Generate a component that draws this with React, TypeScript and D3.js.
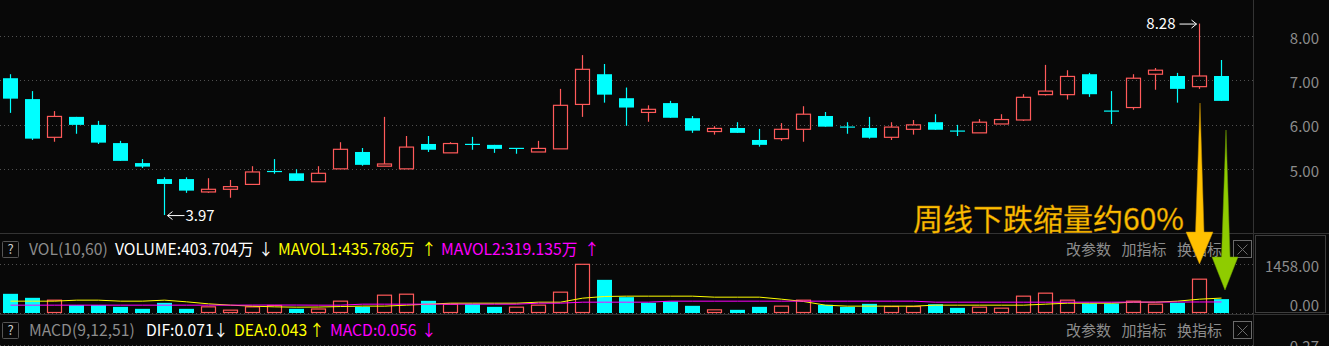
import React from "react";
import * as d3 from "d3";

// ---- data ----
const opens = [7.05,6.58,5.72,6.18,6.00,5.59,5.14,4.78,4.78,4.49,4.55,4.66,4.95,4.91,4.72,5.01,5.39,5.07,5.01,5.57,5.37,5.56,5.55,5.47,5.39,5.46,6.46,7.14,6.60,6.28,6.49,6.15,5.85,5.93,5.66,5.69,5.90,6.20,5.95,5.93,5.72,5.90,6.06,5.86,5.82,6.02,6.11,6.68,6.68,7.14,6.31,6.39,7.14,7.10,6.86,7.10];
const highs = [7.14,6.76,6.31,6.18,6.09,5.64,5.23,4.82,4.82,4.80,4.76,5.07,5.23,5.00,5.07,5.61,5.48,6.18,5.75,5.75,5.61,5.73,5.55,5.47,5.64,6.81,7.57,7.37,6.84,6.44,6.54,6.20,5.97,6.06,5.91,6.04,6.42,6.29,6.06,6.18,6.06,6.11,6.24,6.00,6.13,6.24,6.69,7.35,7.23,7.17,6.76,7.14,7.28,7.17,8.28,7.46];
const lows = [6.27,5.66,5.62,5.80,5.57,5.19,5.03,3.97,4.47,4.47,4.36,4.66,4.90,4.74,4.72,5.01,5.08,5.07,5.01,5.39,5.37,5.44,5.37,5.35,5.39,5.46,6.18,6.50,5.98,6.07,6.16,5.82,5.78,5.82,5.51,5.64,5.62,5.96,5.80,5.69,5.66,5.78,5.89,5.75,5.82,6.02,6.09,6.66,6.57,6.63,6.02,6.34,6.79,6.50,6.81,6.54];
const closes = [6.59,5.69,6.19,6.00,5.60,5.19,5.06,4.67,4.52,4.55,4.61,4.94,4.95,4.74,4.91,5.45,5.10,5.12,5.50,5.44,5.58,5.56,5.46,5.47,5.47,6.44,7.25,6.68,6.39,6.35,6.16,5.87,5.92,5.82,5.55,5.90,6.24,5.96,5.95,5.71,5.95,6.00,5.89,5.86,6.06,6.12,6.62,6.76,7.09,6.69,6.31,7.05,7.23,6.81,7.10,6.54];
const volumes = [565,444,373,222,222,171,111,292,111,171,71,171,212,111,106,343,171,524,554,353,252,252,171,161,222,615,1458,988,464,292,333,202,81,81,171,192,373,232,171,262,181,181,250,141,161,131,494,585,373,272,272,343,252,292,1008,404];
const mavol1 = [343,343,343,373,373,343,343,373,323,262,222,192,171,161,165,181,192,192,222,252,282,282,282,282,312,312,433,484,494,494,494,494,464,464,464,403,333,222,192,192,192,192,222,222,222,222,222,252,282,282,282,312,312,343,403,436];
const mavol2 = [222,222,222,222,222,222,222,222,222,222,222,225,225,225,222,222,252,252,252,252,252,252,252,252,282,282,312,312,312,312,343,343,343,343,343,343,343,343,343,343,343,343,312,312,312,312,312,312,312,312,312,315,315,317,318,319];
const priceTicks = [5, 6, 7, 8];
const volTicks = [0, 1458];
const volHeader = [
  { t: "VOL(10,60)", c: "#8c8c8c", x: 29 },
  { t: "VOLUME:403.704万", c: "#ffffff", x: 115 },
  { t: "↓", c: "#ffffff", x: 258 },
  { t: "MAVOL1:435.786万", c: "#ffff00", x: 278 },
  { t: "↑", c: "#ffff00", x: 421 },
  { t: "MAVOL2:319.135万", c: "#ff00ff", x: 441 },
  { t: "↑", c: "#ff00ff", x: 584 },
];
const macdHeader = [
  { t: "MACD(9,12,51)", c: "#8c8c8c", x: 29 },
  { t: "DIF:0.071", c: "#ffffff", x: 146 },
  { t: "↓", c: "#ffffff", x: 213 },
  { t: "DEA:0.043", c: "#ffff00", x: 234 },
  { t: "↑", c: "#ffff00", x: 309 },
  { t: "MACD:0.056", c: "#ff00ff", x: 330 },
  { t: "↓", c: "#ff00ff", x: 421 },
];
const buttons = ["改参数", "加指标", "换指标"];
const note = "周线下跌缩量约60%";
const macdTopLabel = "0.27";

const W = 1329, H = 346;
const RED = "#ff5a5a", CYAN = "#00ffff";
const FONT = "'Noto Sans CJK SC', 'Noto Sans', sans-serif";
const HF = 15.7;

export default function App() {
  const n = closes.length;
  const x = d3.scaleLinear().domain([0, n - 1]).range([10.2, 1220.7]);
  const yP = d3.scaleLinear().domain([5, 8]).range([169.3, 36]);
  const yV = d3.scaleLinear().domain([0, 1458]).range([312.5, 264.3]);
  const cx = (i: number) => Math.round(x(i)) + 0.5;
  const half = 7;

  const maLine = d3.line<number>().x((_, i) => cx(i)).y((d) => yV(d));

  const hiIdx = d3.maxIndex(highs);
  const loIdx = d3.minIndex(lows);

  const candles = closes.map((c, i) => {
    const o = opens[i];
    const X = cx(i);
    const up = c > o;
    const top = yP(Math.max(o, c));
    const bot = yP(Math.min(o, c));
    const hy = yP(highs[i]);
    const ly = yP(lows[i]);
    if (up) {
      return (
        <g key={i} stroke={RED} strokeWidth={1.2} fill="none">
          {hy < top - 0.3 && <line x1={X} x2={X} y1={hy} y2={top} />}
          {ly > bot + 0.3 && <line x1={X} x2={X} y1={bot} y2={ly} />}
          <rect x={X - half} y={top} width={half * 2} height={Math.max(bot - top, 1)} />
        </g>
      );
    }
    const hgt = bot - top;
    return (
      <g key={i}>
        <line x1={X} x2={X} y1={hy} y2={ly} stroke={CYAN} strokeWidth={1.2} />
        {hgt < 1.2 ? (
          <line x1={X - half - 0.5} x2={X + half + 0.5} y1={top} y2={top} stroke={CYAN} strokeWidth={1.2} />
        ) : (
          <rect x={X - half - 0.5} y={top} width={half * 2 + 1} height={hgt} fill={CYAN} />
        )}
      </g>
    );
  });

  const volBars = volumes.map((v, i) => {
    const upVol = i === 0 ? closes[i] >= opens[i] : closes[i] >= closes[i - 1];
    const X = cx(i);
    const top = yV(v);
    const base = yV(0);
    return upVol ? (
      <rect key={i} x={X - half} y={top} width={half * 2} height={base - top} fill="none" stroke={RED} strokeWidth={1.2} />
    ) : (
      <rect key={i} x={X - half - 0.5} y={top} width={half * 2 + 1} height={base - top + 0.5} fill={CYAN} />
    );
  });

  const hiX = cx(hiIdx), hiY = yP(highs[hiIdx]);
  const loX = cx(loIdx), loY = yP(lows[loIdx]);

  const qBox = (y: number) => (
    <g>
      <rect x={2.5} y={y + 0.5} width={16} height={16} fill="none" stroke="#555" rx={1} />
      <text x={10.5} y={y + 13} fill="#cfcfcf" fontSize={13} textAnchor="middle" fontFamily={FONT}>?</text>
    </g>
  );
  const xBox = (y: number) => (
    <g stroke="#6a6a6a" fill="none">
      <rect x={1233.5} y={y + 0.5} width={18} height={17} />
      <line x1={1237.5} y1={y + 4.5} x2={1247.5} y2={y + 14.5} />
      <line x1={1247.5} y1={y + 4.5} x2={1237.5} y2={y + 14.5} />
    </g>
  );

  return (
    <svg
      width={W}
      height={H}
      style={{ position: "fixed", left: 0, top: 0, display: "block", background: "#080808" }}
      fontFamily={FONT}
    >
      <rect x={0} y={0} width={W} height={H} fill="#080808" />
      {/* main grid */}
      {priceTicks.map((t) => (
        <g key={t}>
          <line x1={0} x2={1253} y1={Math.round(yP(t)) + 0.5} y2={Math.round(yP(t)) + 0.5} stroke="#505050" strokeDasharray="1 3" />
          <text x={1319} y={yP(t) + 7.5} fill="#8c8c8c" fontSize={15} textAnchor="end">{t.toFixed(2)}</text>
        </g>
      ))}
      {/* panel frame lines */}
      <line x1={1253.5} x2={1253.5} y1={0} y2={H} stroke="#333" />
      <line x1={0} x2={W} y1={233.5} y2={233.5} stroke="#333" />
      <line x1={0} x2={W} y1={314.5} y2={314.5} stroke="#333" />
      <rect x={1255.5} y={235.5} width={70} height={77} fill="none" stroke="#3e3e3e" />
      {/* volume grid */}
      {volTicks.map((t) => (
        <line key={t} x1={0} x2={1253} y1={Math.round(yV(t)) + 0.5} y2={Math.round(yV(t)) + 0.5} stroke="#505050" strokeDasharray="1 3" />
      ))}
      <line x1={0} x2={1253} y1={345.5} y2={345.5} stroke="#505050" strokeDasharray="1 3" />
      <text x={1319} y={272} fill="#8c8c8c" fontSize={15} textAnchor="end">{volTicks[1].toFixed(2)}</text>
      <text x={1319} y={310.5} fill="#8c8c8c" fontSize={15} textAnchor="end">{volTicks[0].toFixed(2)}</text>
      <text x={1319} y={352} fill="#8c8c8c" fontSize={15} textAnchor="end">{macdTopLabel}</text>

      {/* candles */}
      {candles}

      {/* high / low annotations */}
      <text x={hiX - 24} y={hiY + 5.5} fill="#ffffff" fontSize={15} textAnchor="end">{highs[hiIdx].toFixed(2)}</text>
      <path d={`M${hiX - 20},${hiY + 0.5}H${hiX - 3}M${hiX - 8},${hiY - 3.5}L${hiX - 3},${hiY + 0.5}L${hiX - 8},${hiY + 4.5}`} stroke="#fff" fill="none" strokeWidth={1} />
      <path d={`M${loX + 3},${loY + 0.5}H${loX + 20}M${loX + 8},${loY - 3.5}L${loX + 3},${loY + 0.5}L${loX + 8},${loY + 4.5}`} stroke="#fff" fill="none" strokeWidth={1} />
      <text x={loX + 21} y={loY + 5.5} fill="#ffffff" fontSize={15}>{lows[loIdx].toFixed(2)}</text>

      {/* volume */}
      {volBars}
      <path d={maLine(mavol1) || ""} fill="none" stroke="#ffff00" strokeWidth={1} />
      <path d={maLine(mavol2) || ""} fill="none" stroke="#ff00ff" strokeWidth={1} />

      {/* headers */}
      {qBox(241)}
      {volHeader.map((h, i) => (
        <text key={i} x={h.x} y={255} fill={h.c} fontSize={HF}>{h.t}</text>
      ))}
      {qBox(322)}
      {macdHeader.map((h, i) => (
        <text key={i} x={h.x} y={336} fill={h.c} fontSize={HF}>{h.t}</text>
      ))}
      {buttons.map((b, i) => (
        <g key={b}>
          <text x={1066 + i * 55.5} y={255} fill="#8c8c8c" fontSize={15}>{b}</text>
          <text x={1066 + i * 55.5} y={336} fill="#8c8c8c" fontSize={15}>{b}</text>
        </g>
      ))}
      {xBox(240)}
      {xBox(321)}

      {/* annotation text */}
      <text x={913} y={230} fill="#ffc000" stroke="#b87a00" strokeWidth={0.4} fontSize={30}>{note}</text>

      {/* arrows */}
      <polygon points="1200,103 1204,232 1213,232 1199.5,264 1186,232 1195.5,232" fill="#ffc000" stroke="#c08a00" strokeWidth={0.5} />
      <polygon points="1226,130 1230,257 1238,257 1225,290 1212,257 1221.5,257" fill="#8fcc00" stroke="#6f9e00" strokeWidth={0.5} />
    </svg>
  );
}
